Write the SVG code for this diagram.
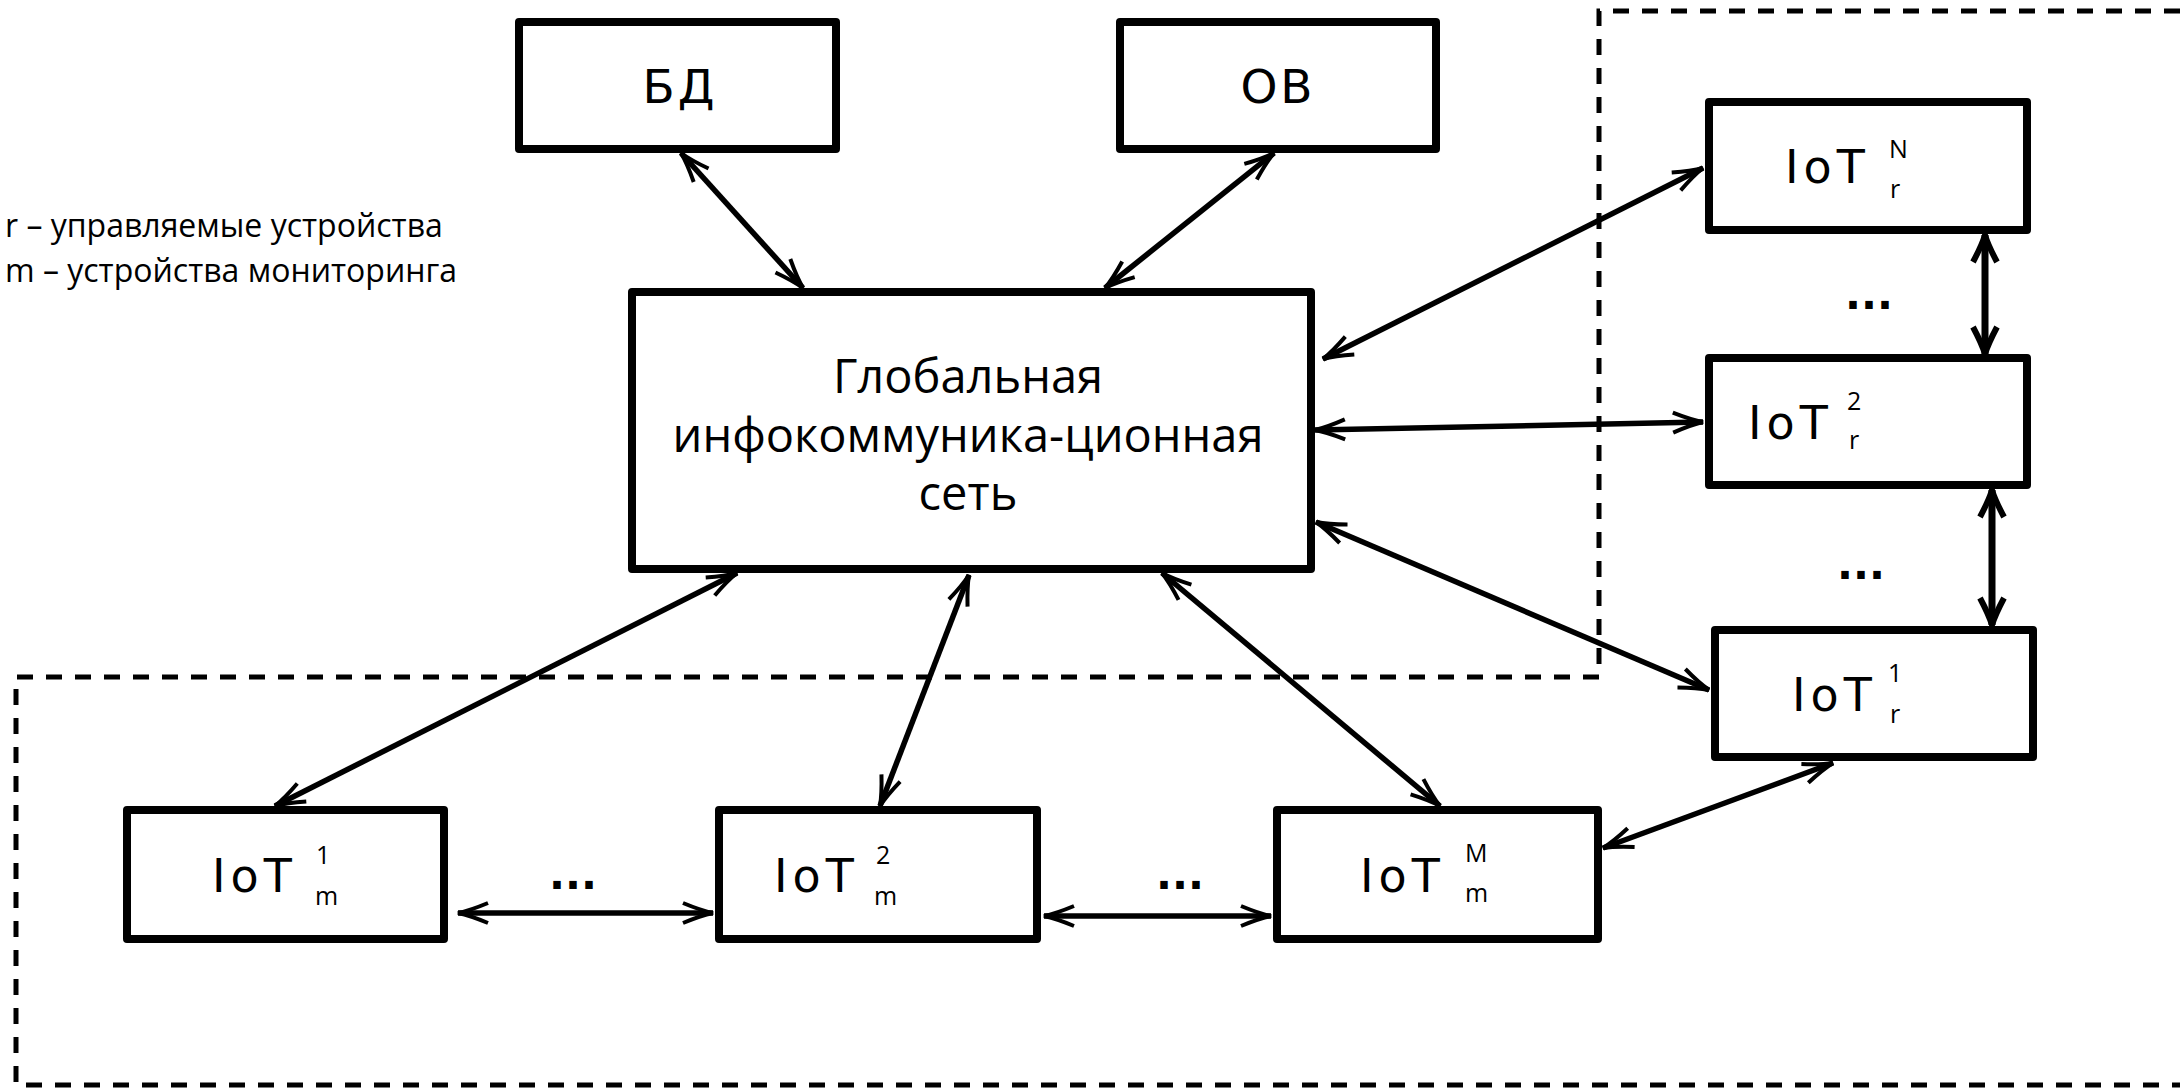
<svg xmlns="http://www.w3.org/2000/svg" width="2180" height="1090" viewBox="0 0 2180 1090">
<defs>
<style>
.box{fill:#fff;stroke:#000;stroke-width:8;stroke-linejoin:round}
.lbl{font-family:"DejaVu Sans","Liberation Sans",sans-serif;font-size:47px;fill:#000}
.iot{font-family:"DejaVu Sans","Liberation Sans",sans-serif;font-size:46px;letter-spacing:5px;fill:#000}
.sup{font-family:"Open Sans","Liberation Sans",sans-serif;font-size:25px;fill:#000}
.main{font-family:"Open Sans","Liberation Sans",sans-serif;font-size:47px;fill:#000;text-anchor:middle}
.leg{font-family:"Open Sans","Liberation Sans",sans-serif;font-size:32px;fill:#000}
.dots{font-family:"DejaVu Sans","Liberation Sans",sans-serif;font-size:42px;font-weight:bold;fill:#000;text-anchor:middle}
.con{stroke:#000;stroke-width:5.5;fill:none;marker-start:url(#ah);marker-end:url(#ah)}
.conb{stroke:#000;stroke-width:7;fill:none;marker-start:url(#ahb);marker-end:url(#ahb)}
.dash{fill:none;stroke:#000;stroke-width:5;stroke-dasharray:16 13}
</style>
<marker id="ah" viewBox="-40 -16 46 32" refX="0" refY="0" markerWidth="46" markerHeight="32" markerUnits="userSpaceOnUse" orient="auto-start-reverse">
<path d="M-30,-10 Q-12,-2.5 0,0 Q-12,2.5 -30,10" fill="none" stroke="#000" stroke-width="4"/>
</marker>
<marker id="ahb" viewBox="-40 -18 46 36" refX="0" refY="0" markerWidth="46" markerHeight="36" markerUnits="userSpaceOnUse" orient="auto-start-reverse">
<path d="M-27,-12 Q-10,-3 0,0 Q-10,3 -27,12" fill="none" stroke="#000" stroke-width="6"/>
</marker>
</defs>
<rect width="2180" height="1090" fill="#fff"/>

<g id="regions">
<polyline class="dash" points="2180,11 1599,11 1599,677 16,677 16,1085 2180,1085"/>
</g>

<g id="legend">
<text class="leg" x="5" y="237">r – управляемые устройства</text>
<text class="leg" x="5" y="282">m – устройства мониторинга</text>
</g>

<g id="connectors">
<line class="con" x1="681" y1="153" x2="803" y2="288"/>
<line class="con" x1="1274" y1="153" x2="1105" y2="288"/>
<line class="con" x1="1323" y1="359" x2="1703" y2="168"/>
<line class="con" x1="1315" y1="430" x2="1703" y2="422"/>
<line class="con" x1="1316" y1="522" x2="1709" y2="690"/>
<line class="con" x1="737" y1="573" x2="275" y2="806"/>
<line class="con" x1="969" y1="575" x2="880" y2="806"/>
<line class="con" x1="1162" y1="573" x2="1440" y2="806"/>
<line class="con" x1="458" y1="913" x2="713" y2="913"/>
<line class="con" x1="1044" y1="916" x2="1271" y2="916"/>
<line class="con" x1="1603" y1="848" x2="1833" y2="763"/>
<line class="conb" x1="1985" y1="235" x2="1985" y2="354"/>
<line class="conb" x1="1992" y1="490" x2="1992" y2="625"/>
</g>

<g id="node-bd">
<rect class="box" x="519" y="22" width="317" height="127"/>
<text class="lbl" x="680" y="103" text-anchor="middle" letter-spacing="3">БД</text>
</g>
<g id="node-ov">
<rect class="box" x="1120" y="22" width="316" height="127"/>
<text class="lbl" x="1278" y="103" text-anchor="middle" letter-spacing="3">ОВ</text>
</g>
<g id="node-global">
<rect class="box" x="632" y="292" width="679" height="277"/>
<text class="main" x="968" y="393">Глобальная</text>
<text class="main" x="968" y="452">инфокоммуника-ционная</text>
<text class="main" x="968" y="510">сеть</text>
</g>
<g id="node-iot-rN">
<rect class="box" x="1709" y="102" width="318" height="128"/>
<text class="iot" x="1785" y="183">IoT</text>
<text class="sup" x="1889" y="158">N</text>
<text class="sup" x="1890" y="198">r</text>
</g>
<text class="dots" x="1869" y="309">...</text>
<g id="node-iot-r2">
<rect class="box" x="1709" y="358" width="318" height="127"/>
<text class="iot" x="1748" y="439">IoT</text>
<text class="sup" x="1847" y="410">2</text>
<text class="sup" x="1849" y="449">r</text>
</g>
<text class="dots" x="1861" y="579">...</text>
<g id="node-iot-r1">
<rect class="box" x="1715" y="630" width="318" height="127"/>
<text class="iot" x="1792" y="711">IoT</text>
<text class="sup" x="1888" y="682">1</text>
<text class="sup" x="1890" y="723">r</text>
</g>
<g id="node-iot-m1">
<rect class="box" x="127" y="810" width="317" height="129"/>
<text class="iot" x="212" y="892">IoT</text>
<text class="sup" x="316" y="864">1</text>
<text class="sup" x="315" y="905">m</text>
</g>
<text class="dots" x="573" y="889">...</text>
<g id="node-iot-m2">
<rect class="box" x="719" y="810" width="318" height="129"/>
<text class="iot" x="774" y="892">IoT</text>
<text class="sup" x="876" y="864">2</text>
<text class="sup" x="874" y="905">m</text>
</g>
<text class="dots" x="1180" y="889">...</text>
<g id="node-iot-mM">
<rect class="box" x="1277" y="810" width="321" height="129"/>
<text class="iot" x="1360" y="892">IoT</text>
<text class="sup" x="1465" y="862">M</text>
<text class="sup" x="1465" y="902">m</text>
</g>
</svg>
